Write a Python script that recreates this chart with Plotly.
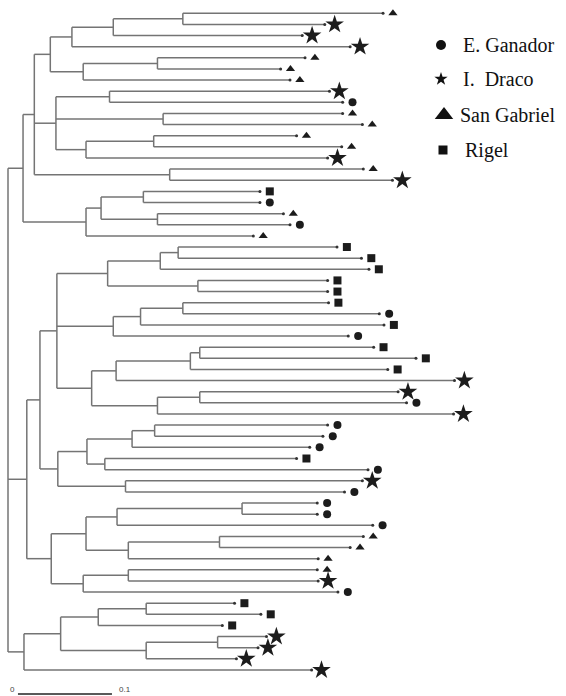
import plotly.graph_objects as go

# ---------------- data ----------------
# Three main clades of the tree (Newick, branch lengths in substitutions/site)
clade_top = ("((((((t1:0.213,t2:0.151):0.074,t3:0.201):0.044,t4:0.296):0.023,"
             "((t5:0.157,t6:0.131):0.079,t7:0.220):0.035):0.017,"
             "((t8:0.234,t9:0.248):0.057,(t10:0.191,t11:0.212):0.114,"
             "((t12:0.152,t13:0.200):0.072,t14:0.257):0.032):0.023,"
             "(t15:0.206,t16:0.237):0.144):0.012,"
             "(((t17:0.124,t18:0.124):0.045,(t19:0.134,t20:0.141):0.060):0.016,t21:0.178):0.067):0.016")
clade_mid = ("((("
             "(((t22:0.169,t23:0.195):0.019,t24:0.222):0.056,(t25:0.138,t26:0.138):0.096):0.054,"
             "(((t27:0.155,t28:0.209):0.045,t29:0.259):0.029,t30:0.250):0.060,"
             "((((t31:0.185,t32:0.230):0.010,t33:0.210):0.079,t34:0.360):0.026,"
             "((t35:0.211,t36:0.220):0.045,t37:0.315):0.070):0.037):0.018,"
             "((((t38:0.184,t39:0.179):0.024,t40:0.189):0.048,(t41:0.204,t42:0.280):0.019):0.031,"
             "(t43:0.252,t44:0.233):0.072):0.019):0.014,"
             "((((t45:0.080,t46:0.080):0.133,t47:0.272):0.033,"
             "((t48:0.153,t49:0.139):0.097,t50:0.202):0.045):0.037,"
             "((t51:0.201,t52:0.202):0.048,t53:0.271):0.034):0.026):0.020")
clade_bottom = ("((((t54:0.094,t55:0.122):0.051,t56:0.132):0.040,"
                "((t57:0.052,t58:0.043):0.076,t59:0.096):0.091):0.039,t60:0.306):0.017")

# Population of each leaf t1..t60
EG, ID, SG, RI = "E. Ganador", "I.  Draco", "San Gabriel", "Rigel"
leaf_groups = [
    SG, ID, ID, ID, SG, SG, SG, ID, EG, SG, SG, SG, SG, ID, SG, ID,
    RI, EG, SG, EG, SG,
    RI, RI, RI, RI, RI, RI, EG, RI, EG, RI, RI, RI, ID, ID, EG, ID,
    EG, EG, EG, RI, EG, ID, EG,
    EG, EG, EG, SG, SG, SG, SG, ID, EG,
    RI, RI, RI, ID, ID, ID, ID,
]

legend_labels = [EG, ID, SG, RI]
scale_value = 0.1
scale_labels = ["0", "0.1"]

# ---------------- styles ----------------
symbol_of = {EG: "circle", ID: "star", SG: "triangle-up", RI: "square"}
tree_size = {EG: 8, ID: 14, SG: 8, RI: 8}
legend_size = {EG: 10, ID: 10, SG: 16, RI: 9}
LINE = "#747474"
MARK = "#1c1c1c"

# ---------------- parse newick ----------------
def parse(s):
    pos = 0

    def node():
        nonlocal pos
        n = {"children": [], "name": "", "bl": 0.0}
        if s[pos] == "(":
            pos += 1
            n["children"].append(node())
            while s[pos] == ",":
                pos += 1
                n["children"].append(node())
            pos += 1  # ')'
        st = pos
        while pos < len(s) and s[pos] not in ":,();":
            pos += 1
        n["name"] = s[st:pos]
        if pos < len(s) and s[pos] == ":":
            pos += 1
            st = pos
            while pos < len(s) and s[pos] not in ",();":
                pos += 1
            n["bl"] = float(s[st:pos])
        return n

    return node()


root = parse("(" + ",".join([clade_top, clade_mid, clade_bottom]) + ");")

leaves = []


def layout(n, px):
    n["x"] = px + n["bl"]
    if not n["children"]:
        n["y"] = len(leaves)
        leaves.append(n)
    else:
        for c in n["children"]:
            layout(c, n["x"])
        n["y"] = (n["children"][0]["y"] + n["children"][-1]["y"]) / 2


root["bl"] = 0.0
layout(root, 0.0)

lx, ly = [], []


def segments(n, parent_x=None):
    if parent_x is not None:
        lx.extend([parent_x, n["x"], None])
        ly.extend([n["y"], n["y"], None])
    if n["children"]:
        lx.extend([n["x"], n["x"], None])
        ly.extend([n["children"][0]["y"], n["children"][-1]["y"], None])
        for c in n["children"]:
            segments(c, n["x"])


segments(root)

fig = go.Figure()
fig.add_trace(go.Scatter(x=lx, y=ly, mode="lines",
                         line=dict(color=LINE, width=1.5),
                         hoverinfo="skip", showlegend=False))
# tiny tip dots
fig.add_trace(go.Scatter(x=[l["x"] for l in leaves], y=[l["y"] for l in leaves],
                         mode="markers", marker=dict(size=3, color="#333"),
                         hoverinfo="skip", showlegend=False))

OFFSET = 0.0105
for g in legend_labels:
    idx = [i for i, l in enumerate(leaves) if leaf_groups[int(l["name"][1:]) - 1] == g]
    fig.add_trace(go.Scatter(
        x=[leaves[i]["x"] + OFFSET for i in idx],
        y=[leaves[i]["y"] for i in idx],
        mode="markers",
        marker=dict(symbol=symbol_of[g], size=tree_size[g], color=MARK, line=dict(width=0)),
        name=g, showlegend=False))

# scale bar
SB_X0 = 0.0106
SB_Y = 61.16
fig.add_trace(go.Scatter(x=[SB_X0, SB_X0 + scale_value], y=[SB_Y, SB_Y], mode="lines",
                         line=dict(color="#222", width=1.5), hoverinfo="skip", showlegend=False))
fig.add_annotation(x=SB_X0 - 0.001, y=SB_Y - 0.45, text=scale_labels[0], showarrow=False,
                   xanchor="right", yanchor="middle", font=dict(size=8, color="#444", family="Liberation Sans"))
fig.add_annotation(x=SB_X0 + scale_value + 0.005, y=SB_Y - 0.45, text=scale_labels[1], showarrow=False,
                   xanchor="left", yanchor="middle", font=dict(size=8, color="#444", family="Liberation Sans"))

# legend (drawn on a pixel-mapped overlay axis)
leg_y = [45, 79, 115, 150]
leg_mx = [441, 441, 444, 443]
leg_tx = [461, 461, 458, 463]
for g, yy, mx, tx in zip(legend_labels, leg_y, leg_mx, leg_tx):
    fig.add_trace(go.Scatter(x=[mx], y=[yy], xaxis="x2", yaxis="y2", mode="markers",
                             marker=dict(symbol=symbol_of[g], size=legend_size[g], color="#111"),
                             hoverinfo="skip", showlegend=False))
    fig.add_annotation(x=tx, y=yy, xref="x2", yref="y2", text=g, showarrow=False,
                       xanchor="left", yanchor="middle",
                       font=dict(size=20, color="#111", family="Liberation Serif"))

W, H = 566, 696
fig.update_layout(
    width=W, height=H,
    margin=dict(l=0, r=0, t=0, b=0),
    paper_bgcolor="white", plot_bgcolor="white",
    showlegend=False,
    xaxis=dict(range=[-8 / 940, (W - 8) / 940], visible=False, fixedrange=True),
    yaxis=dict(range=[(H - 13.3) / 11.13, -13.3 / 11.13], visible=False, fixedrange=True),
    xaxis2=dict(range=[0, W], overlaying="x", visible=False, fixedrange=True),
    yaxis2=dict(range=[H, 0], overlaying="y", visible=False, fixedrange=True),
)

fig.write_html("out.html", config={"displayModeBar": False},
               post_script="document.body.style.margin='0';document.body.style.overflow='hidden';")
